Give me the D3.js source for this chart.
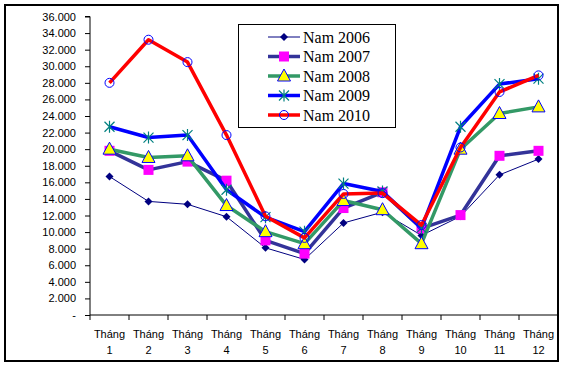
<!DOCTYPE html>
<html><head><meta charset="utf-8">
<script src="https://cdn.jsdelivr.net/npm/d3@7/dist/d3.min.js"></script>
<style>body{margin:0;background:#fff}svg{display:block}</style>
</head><body><svg id="c" width="564" height="368"></svg>
<script>
const months = ["1","2","3","4","5","6","7","8","9","10","11","12"];
const monthWord = "Tháng";
const yTicks = [0,2000,4000,6000,8000,10000,12000,14000,16000,18000,20000,22000,24000,26000,28000,30000,32000,34000,36000];
const seriesNames = ["Nam 2006","Nam 2007","Nam 2008","Nam 2009","Nam 2010"];
const v2006 = [16700,13700,13350,11850,8100,6700,11100,12400,9600,11900,16900,18800];
const v2007 = [19800,17500,18500,16200,9000,7400,12900,14800,10450,12050,19200,19800];
const v2008 = [20000,19000,19200,13200,10050,8600,13800,12700,8600,20000,24300,25100];
const v2009 = [22700,21400,21700,15100,11800,10050,15850,14900,10500,22700,27850,28500];
const v2010 = [28000,33200,30500,21700,11900,9300,14600,14700,10850,20200,26900,28900];

const svg = d3.select("#c");
const W = 564, H = 368;
const L = 90, R = 558, T = 16.5, B = 315;

svg.append("rect").attr("x",5).attr("y",5).attr("width",553).attr("height",356)
  .attr("fill","#fff").attr("stroke","#000").attr("stroke-width",2);

const x = d3.scaleBand().domain(months).range([L,R]).padding(0);
const y = d3.scaleLinear().domain([0,36000]).range([B,T]);

const fmt = v => v === 0 ? "-" : d3.format(",.3f")(v/1000).replace(/,/g,"");
// y axis
const yAxis = d3.axisLeft(y).tickValues(yTicks).tickSize(5).tickPadding(9)
  .tickFormat(v => v === 0 ? "-" : d3.format(",")(v).replace(/,/g,"."));
const gy = svg.append("g").attr("transform",`translate(${L},0)`).call(yAxis);
gy.select(".domain").attr("stroke","#000").attr("d",`M-5,${T}H0V${B}`);
gy.selectAll(".tick line").attr("stroke","#000");
gy.selectAll("text").attr("font-family","Arial, 'Liberation Sans', sans-serif").attr("font-size","11px").attr("fill","#000");

// x axis
const gx = svg.append("g").attr("transform",`translate(0,${B})`);
gx.append("line").attr("x1",L).attr("x2",R).attr("y1",0).attr("y2",0).attr("stroke","#000");
const bounds = months.map(m => x(m)).concat([R]);
gx.selectAll("line.tk").data(bounds).enter().append("line").attr("class","tk")
  .attr("x1",d=>d).attr("x2",d=>d).attr("y1",0).attr("y2",5).attr("stroke","#000");
const lbl = gx.selectAll("text.lb").data(months).enter().append("text").attr("class","lb")
  .attr("text-anchor","middle").attr("font-family","Arial, 'Liberation Sans', sans-serif")
  .attr("font-size","11px").attr("fill","#000");
lbl.append("tspan").attr("x",d=>x(d)+x.bandwidth()/2).attr("y",23).text(monthWord);
lbl.append("tspan").attr("x",d=>x(d)+x.bandwidth()/2).attr("y",39).text(d=>d);

const cx = i => x(months[i]) + x.bandwidth()/2;
const styles = [
  {vals:v2006, color:"#000080", w:1, marker:"diamond"},
  {vals:v2007, color:"#333399", w:3.5, marker:"square"},
  {vals:v2008, color:"#339966", w:3.5, marker:"triangle"},
  {vals:v2009, color:"#0000FF", w:3.5, marker:"star"},
  {vals:v2010, color:"#FF0000", w:3.5, marker:"circle"}
];

function drawMarker(g, type, px, py){
  if(type==="diamond"){
    g.append("path").attr("d",`M${px},${py-4}L${px+4},${py}L${px},${py+4}L${px-4},${py}Z`).attr("fill","#000080");
  } else if(type==="square"){
    g.append("rect").attr("x",px-5).attr("y",py-5).attr("width",10).attr("height",10).attr("fill","#FF00FF");
  } else if(type==="triangle"){
    g.append("path").attr("d",`M${px},${py-7}L${px+6.5},${py+5}L${px-6.5},${py+5}Z`)
      .attr("fill","#FFFF00").attr("stroke","#0000FF").attr("stroke-width",1);
  } else if(type==="star"){
    const s=5;
    g.append("path").attr("d",`M${px-s},${py-s}L${px+s},${py+s}M${px-s},${py+s}L${px+s},${py-s}M${px},${py-s-1}V${py+s+1}`)
      .attr("stroke","#008080").attr("stroke-width",1.2).attr("fill","none");
  } else if(type==="circle"){
    g.append("circle").attr("cx",px).attr("cy",py).attr("r",4.5).attr("fill","none").attr("stroke","#0000FF").attr("stroke-width",1);
  }
}

const line = d3.line().x((d,i)=>cx(i)).y(d=>y(d));
styles.forEach(s => {
  const g = svg.append("g");
  g.append("path").datum(s.vals).attr("d",line).attr("fill","none")
    .attr("stroke",s.color).attr("stroke-width",s.w).attr("stroke-linejoin","round");
  s.vals.forEach((v,i)=>drawMarker(g, s.marker, cx(i), y(v)));
});

// legend
const lg = svg.append("g");
lg.append("rect").attr("x",238.5).attr("y",24.5).attr("width",157).attr("height",103)
  .attr("fill","#fff").attr("stroke","#000").attr("stroke-width",1);
const ly = [37,56.5,76,95.5,115];
styles.forEach((s,i) => {
  const g = lg.append("g");
  g.append("line").attr("x1",268).attr("x2",300).attr("y1",ly[i]).attr("y2",ly[i])
    .attr("stroke",s.color).attr("stroke-width",s.w);
  drawMarker(g, s.marker, 284, ly[i]);
  g.append("text").attr("x",303).attr("y",ly[i]+5.5).attr("font-family","'Times New Roman','Liberation Serif',serif")
    .attr("font-size","16px").attr("fill","#000").text(seriesNames[i]);
});
</script></body></html>
